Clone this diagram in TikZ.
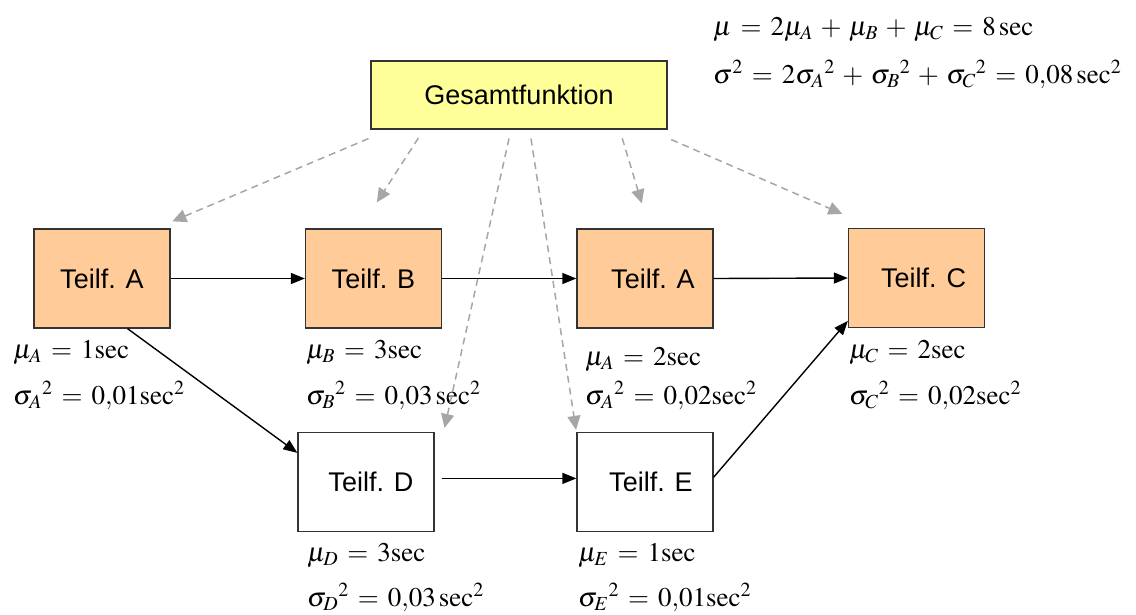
\documentclass[tikz,border=0pt]{standalone}
\usepackage{mathptmx}
\usepackage[no-math]{fontspec}
\setmainfont{Liberation Serif}
\setsansfont{Liberation Sans}
\usetikzlibrary{%
  arrows.meta,% Triangle tips
  positioning%
}
\definecolor{teilorange}{RGB}{255,204,153}
\definecolor{gesamtgelb}{RGB}{255,255,153}
\definecolor{pfeilgrau}{RGB}{166,166,166}
\thickmuskip=6mu plus 2mu
\medmuskip=5mu plus 2mu

\begin{document}
\begin{tikzpicture}[
    x=1pt, y=-1pt,
    teil/.style={draw=black!80, line width=1.3pt, fill=teilorange,
      minimum width=136pt, minimum height=99pt,
      font=\sffamily\fontsize{27}{32}\selectfont},
    leer/.style={teil, fill=white},
    gesamt/.style={teil, fill=gesamtgelb, minimum width=296pt, minimum height=68pt},
    wert/.style={anchor=base west, inner sep=0pt, font=\fontsize{27}{32}\selectfont},
    fluss/.style={-{Triangle[length=14pt,width=11pt]}, line width=1.4pt},
    bezug/.style={-{Triangle[length=14pt,width=13pt]}, draw=pfeilgrau,
      line width=1.5pt, dash pattern=on 7pt off 5pt}
  ]
  \useasboundingbox (0,0) rectangle (1136,614);

  % draw boxes
  \node[gesamt] at (519,95) (ges) {Gesamtfunktion\hspace{14pt}};
  \node[teil] at (102,278.5) (tA1) {Teilf. A};
  \node[teil] at (373.5,278.5) (tB) {Teilf. B};
  \node[teil] at (645,278.5) (tA2) {\hspace{16pt}Teilf. A};
  \node[teil] at (916.5,278) (tC) {\hspace{14pt}Teilf. C};
  \node[leer] at (366,482) (tD) {\hspace{10pt}Teilf. D};
  \node[leer] at (645,482) (tE) {\hspace{12pt}Teilf. E};

  % draw values
  \node[wert] at (13,358) (muA1) {$\mu_A = 1\mathrm{sec}$};
  \node[wert] at (13,404) (sigA1) {${\sigma_A}^2 = 0{,}01\mathrm{sec}^2$};
  \node[wert] at (306,358) (muB) {$\mu_B = 3\mathrm{sec}$};
  \node[wert] at (306,404) (sigB) {${\sigma_B}^2 = 0{,}03\,\mathrm{sec}^2$};
  \node[wert] at (585,365) (muA2) {$\mu_A = 2\mathrm{sec}$};
  \node[wert] at (585,404) (sigA2) {${\sigma_A}^2 = 0{,}02\mathrm{sec}^2$};
  \node[wert] at (849,358) (muC) {$\mu_C = 2\mathrm{sec}$};
  \node[wert] at (849,404) (sigC) {${\sigma_C}^2 = 0{,}02\mathrm{sec}^2$};
  \node[wert] at (307,561) (muD) {$\mu_D = 3\mathrm{sec}$};
  \node[wert] at (307,606) (sigD) {${\sigma_D}^2 = 0{,}03\,\mathrm{sec}^2$};
  \node[wert] at (578,561) (muE) {$\mu_E = 1\mathrm{sec}$};
  \node[wert] at (578,606) (sigE) {${\sigma_E}^2 = 0{,}01\mathrm{sec}^2$};
  \node[wert] at (713,35) (muges) {$\mu = 2\mu_A + \mu_B + \mu_C = 8\,\mathrm{sec}$};
  \node[wert] at (713,83) (sigges) {$\sigma^2 = 2{\sigma_A}^2 + {\sigma_B}^2 + {\sigma_C}^2 = 0{,}08\,\mathrm{sec}^2$};

  % draw connections
  \foreach \von/\nach in {tA1.east/tB.west, tB.east/tA2.west, tA2.east/tC.west,
                          tA1.-63/tD.157, tE.4/tC.212}{
    \draw[fluss] (\von) -- (\nach);}
  \draw[fluss, shorten <=7pt] (tD.3) -- (tE.177);

  % draw references
  \foreach \ab/\ziel/\an/\kurzA/\kurzB in {195/tA1/43/23pt/18pt, 200/tB/105/10pt/31pt,
                                          341/tA2/85/9pt/26pt, 345/tC/130/25pt/35pt}{
    \draw[bezug, shorten <=\kurzA, shorten >=\kurzB] (ges.\ab) -- (\ziel.\an);}
  \draw[bezug, shorten <=9pt, shorten >=4pt] (ges.257) -- ([xshift=9pt]tD.north east);
  \draw[bezug, shorten <=9pt, shorten >=2pt] (ges.287) -- (tE.north west);
\end{tikzpicture}
\end{document}
